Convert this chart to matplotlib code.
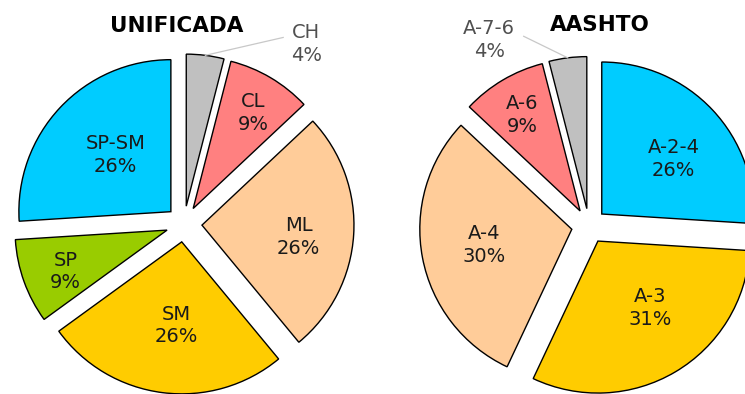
import numpy as np
import matplotlib
matplotlib.use("Agg")
import matplotlib.pyplot as plt

# --- data ---------------------------------------------------------------
usc_labels = ["CH", "CL", "ML", "SM", "SP", "SP-SM"]
usc_values = [4, 9, 26, 26, 9, 26]
usc_colors = ["#C0C0C0", "#FF8080", "#FFCC99", "#FFCC00", "#99CC00", "#00CCFF"]

aashto_labels = ["A-2-4", "A-3", "A-4", "A-6", "A-7-6"]
aashto_values = [26, 31, 30, 9, 4]
aashto_colors = ["#00CCFF", "#FFCC00", "#FFCC99", "#FF8080", "#C0C0C0"]

# --- layout (pixel-based data coordinates) -----------------------------
W, H = 745, 394
R = 152
fig = plt.figure(figsize=(W / 100, H / 100), dpi=100)
ax = fig.add_axes([0, 0, 1, 1])


def draw_pie(center, values, labels, colors, explode, lab_angle_shift,
             lab_frac, outside_idx, leader_end, title, title_xy):
    wedges, _ = ax.pie(values, colors=colors, startangle=90, counterclock=False,
                       radius=R, center=center, explode=[explode] * len(values),
                       wedgeprops=dict(edgecolor="black", linewidth=1.0))
    total = float(sum(values))
    for i, w in enumerate(wedges):
        mid = 0.5 * (w.theta1 + w.theta2)
        pct = f"{values[i] / total * 100:.0f}%"
        ang = np.deg2rad(mid + lab_angle_shift[i])
        lx = center[0] + lab_frac[i] * R * np.cos(ang)
        ly = center[1] + lab_frac[i] * R * np.sin(ang)
        if i == outside_idx:
            m = np.deg2rad(mid)
            sx = w.center[0] + R * np.cos(m)
            sy = w.center[1] + R * np.sin(m)
            ea = np.deg2rad(leader_end[0])
            ex = center[0] + leader_end[1] * R * np.cos(ea)
            ey = center[1] + leader_end[1] * R * np.sin(ea)
            ax.plot([sx, ex], [sy, ey], color="#C8C8C8", lw=0.9)
            ax.text(lx, ly, f"{labels[i]}\n{pct}", ha="center", va="center",
                    fontsize=14, color="#505050", linespacing=1.25)
        else:
            ax.text(lx, ly, f"{labels[i]}\n{pct}", ha="center", va="center",
                    fontsize=14, color="#1A1A1A", linespacing=1.25)
    ax.text(title_xy[0], title_xy[1], title, ha="center", va="center",
            fontsize=15.5, fontweight="bold", color="black")


draw_pie((184, H - 224), usc_values, usc_labels, usc_colors, 18,
         [-27, -1.5, -3, 3, 2, -2], [1.43, 0.86, 0.76, 0.67, 0.84, 0.64],
         0, (62, 1.39), "UNIFICADA", (177, H - 26))

draw_pie((589, H - 226), aashto_values, aashto_labels, aashto_colors, 17.5,
         [-5, 6, -0.5, 0.5, 21], [0.71, 0.67, 0.70, 0.85, 1.39],
         4, (109, 1.32), "AASHTO", (600, H - 25))

ax.set_xlim(0, W)
ax.set_ylim(0, H)
ax.set_aspect("equal")
ax.axis("off")

fig.savefig("out.png", dpi=100, facecolor="white")
